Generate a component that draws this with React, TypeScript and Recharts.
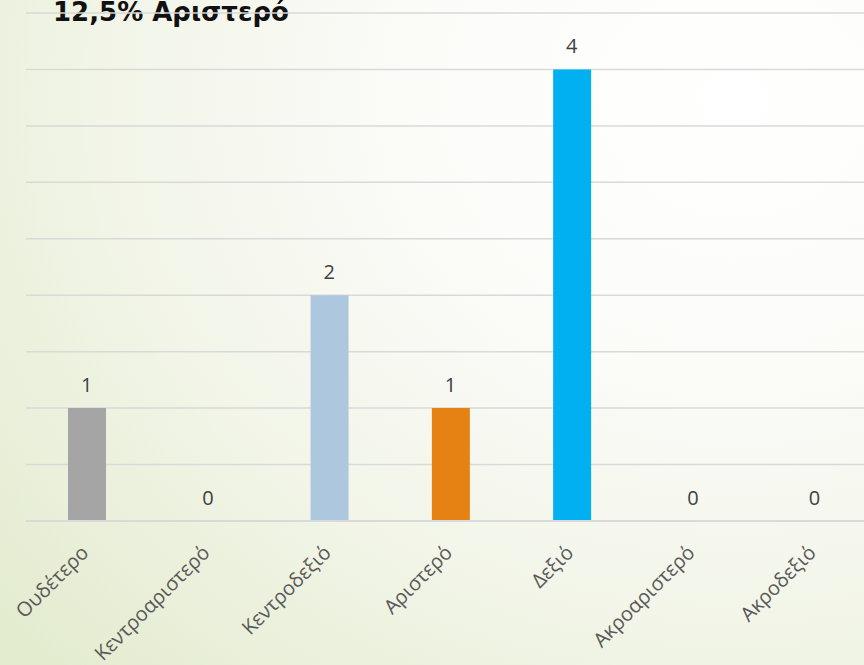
import { Bar, CartesianGrid, Cell, LabelList, Line, XAxis, YAxis, ComposedChart } from 'recharts'

const categories = ['Ουδέτερο', 'Κεντροαριστερό', 'Κεντροδεξιό', 'Αριστερό', 'Δεξιό', 'Ακροαριστερό', 'Ακροδεξιό']
const counts = [1, 0, 2, 1, 4, 0, 0]
const yTicks = [0, 0.5, 1, 1.5, 2, 2.5, 3, 3.5, 4, 4.5]
const title = '12,5% Αριστερό'

const BAR_COLORS = ['#a5a5a5', '#adc7de', '#adc7de', '#e68213', '#00b0f0', '#a5a5a5', '#a5a5a5']

const data = categories.map((name, i) => ({ name, value: counts[i] }))

function RotatedTick(props: any) {
  const { x, y, payload } = props
  return (
    <g transform={`translate(${x + 3},${y + 25})`}>
      <text
        transform="rotate(-45)"
        textAnchor="end"
        fill="#595959"
        fontSize={20}
        fontFamily="'Open Sans', sans-serif"
      >
        {payload.value}
      </text>
    </g>
  )
}

export default function App() {
  return (
    <div
      style={{
        position: 'absolute',
        left: 0,
        top: 0,
        width: 864,
        height: 665,
        overflow: 'hidden',
        background:
          'radial-gradient(ellipse 110% 120% at 85% 15%, #ffffff 0%, #fbfbf8 35%, #f2f5e8 65%, #e4ecd0 100%)',
      }}
    >
      <div
        style={{
          position: 'absolute',
          left: 53,
          top: -1,
          fontFamily: "'DejaVu Sans', sans-serif",
          fontWeight: 700,
          fontSize: 26,
          lineHeight: 1,
          color: '#111',
          whiteSpace: 'nowrap',
        }}
      >
        {title}
      </div>
      <ComposedChart
        width={875}
        height={665}
        data={data}
        margin={{ top: 13, right: 0, left: 26, bottom: 0 }}
      >
        <CartesianGrid vertical={false} stroke="#d9d9d9" strokeWidth={1.5} />
        <XAxis
          dataKey="name"
          axisLine={{ stroke: '#d9d9d9', strokeWidth: 2 }}
          tickLine={false}
          interval={0}
          height={144}
          tick={<RotatedTick />}
        />
        <YAxis hide domain={[0, 4.5]} ticks={yTicks} />
        <Bar dataKey="value" barSize={38} isAnimationActive={false}>
          {data.map((d, i) => (
            <Cell key={d.name} fill={BAR_COLORS[i]} />
          ))}
        </Bar>
        <Line dataKey="value" stroke="none" dot={false} activeDot={false} isAnimationActive={false}>
          <LabelList
            dataKey="value"
            position="top"
            offset={16}
            fill="#404040"
            fontSize={20}
            fontFamily="'Open Sans', sans-serif"
          />
        </Line>
      </ComposedChart>
    </div>
  )
}
